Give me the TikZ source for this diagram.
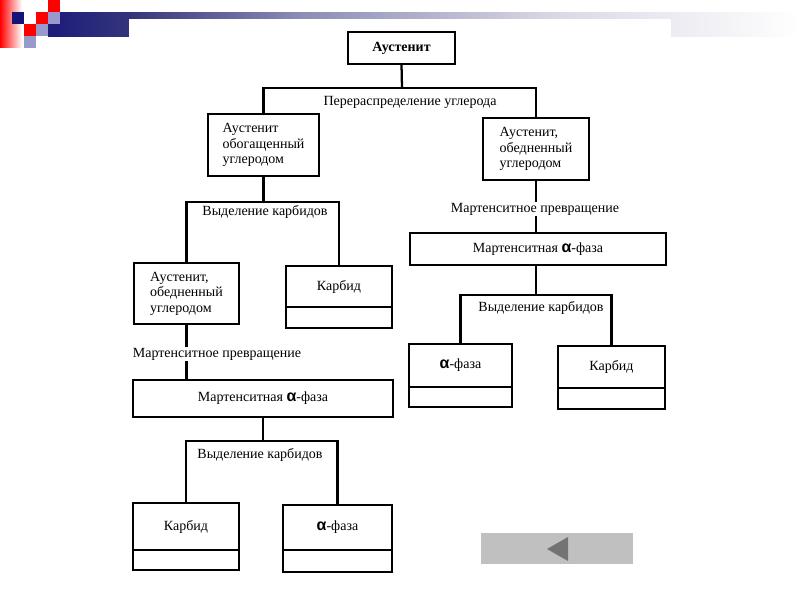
\documentclass[tikz,border=0pt]{standalone}
\usepackage{fontspec}
\setmainfont{Liberation Serif}
\newfontfamily\greekfont{Liberation Sans}
\usetikzlibrary{positioning}

\definecolor{slidered}{RGB}{255,0,0}
\definecolor{slidenavy}{RGB}{20,20,120}
\definecolor{slidelilac}{RGB}{153,153,204}
\definecolor{barA}{RGB}{28,28,122}
\definecolor{barB}{RGB}{52,52,124}
\definecolor{barC}{RGB}{140,140,182}
\definecolor{barD}{RGB}{218,218,230}
\definecolor{btngrey}{RGB}{192,192,192}
\definecolor{btndark}{RGB}{115,115,115}

\newcommand{\alf}{{\greekfont\bfseries\large α}}

\begin{document}
\begin{tikzpicture}[x=0.75pt, y=-0.75pt,
  every node/.style={font=\fontsize{10.5}{11.6}\selectfont},
  boxsize/.style 2 args={minimum width=#1*0.75pt, minimum height=#2*0.75pt},
  box/.style={draw, line width=1.7pt, inner sep=0pt, outer sep=0pt},
  note/.style={fill=white, inner sep=1pt},
  link/.style={line width=1.7pt}]

\useasboundingbox (0,0) rectangle (800,600);
\fill[white] (0,0) rectangle (800,600);

% slide decoration
\shade[left color=slidered, right color=white] (0,0) rectangle (22,47);
\shade[left color=barA, right color=barB] (48,12) rectangle (130,36);
\shade[left color=barB, right color=barC] (130,12) rectangle (300,36);
\shade[left color=barC, right color=barD] (300,12) rectangle (560,36);
\shade[left color=barD, right color=white] (560,12) rectangle (800,36);
\fill[white] (129,19) rectangle (671,600);
\fill[slidered] (48,0) rectangle (60,12);
\fill[slidenavy] (12,12) rectangle (24,24);
\fill[slidered] (36,12) rectangle (48,24);
\fill[slidelilac] (48,12) rectangle (60,24);
\fill[slidered] (24,24) rectangle (36,36);
\fill[slidelilac] (36,24) rectangle (48,36);
\fill[slidelilac] (24,36) rectangle (36,48);

% boxes
\node[box, boxsize={107}{32}] (aus) at (401.5,48) {\textbf{Аустенит}};
\node[box, boxsize={111}{62}, align=left] (enr) at (263.5,145) {Аустенит\\обогащенный\\углеродом};
\node[box, boxsize={106}{62}, align=left] (depR) at (536,149) {Аустенит,\\обедненный\\углеродом};
\node[box, boxsize={105}{61}, align=left] (depL) at (186.5,293.5) {Аустенит,\\обедненный\\углеродом};
\node[box, boxsize={106}{41}] (carbL) at (339,286.5) {Карбид};
\node[box, boxsize={106}{21}, below=0pt of carbL] (carbLb) {};
\node[box, boxsize={260}{37}] (martL) at (263,398.5) {Мартенситная \alf-фаза};
\node[box, boxsize={106}{47}] (carbB) at (186,526.5) {Карбид};
\node[box, boxsize={106}{20}, below=0pt of carbB] (carbBb) {};
\node[box, boxsize={109}{45}] (alphaB) at (337.5,527.5) {\alf-фаза};
\node[box, boxsize={109}{22}, below=0pt of alphaB] (alphaBb) {};
\node[box, boxsize={256}{32}] (martR) at (538,249) {Мартенситная \alf-фаза};
\node[box, boxsize={103}{43}] (alphaR) at (460.5,365.5) {\alf-фаза};
\node[box, boxsize={103}{20}, below=0pt of alphaR] (alphaRb) {};
\node[box, boxsize={107}{42}] (carbR) at (611.5,367) {Карбид};
\node[box, boxsize={107}{21}, below=0pt of carbR] (carbRb) {};

% connectors
\coordinate (b1) at (402,88);
\draw[link] (aus.south) -- (b1);
\draw[link] (enr.north) |- (b1) -| (depR.north);

\coordinate (b2) at (263.5,202);
\draw[link] (enr.south) -- (b2);
\draw[link] (depL.north) |- (b2) -| (carbL.north);
\draw[link] (depL.south) -- (depL.south |- martL.north);

\coordinate (b3) at (263,441);
\draw[link] (martL.south) -- (b3);
\draw[link] (carbB.north) |- (b3) -| (alphaB.north);

\draw[link] (depR.south) -- (depR.south |- martR.north);
\coordinate (b4) at (536,295);
\draw[link] (b4 |- martR.south) -- (b4);
\draw[link] (alphaR.north) |- (b4) -| (carbR.north);

% texts on the lines
\node[note] (redist) at (410,102) {Перераспределение углерода};
\node[note] (sepL) at (265,212) {Выделение карбидов};
\node[note] (trL) at (217,354) {Мартенситное превращение};
\node[note] (sepB) at (260,455) {Выделение карбидов};
\node[note] (trR) at (535,209) {Мартенситное превращение};
\node[note] (sepR) at (541,308) {Выделение карбидов};

% back button
\fill[btngrey] (481,533) rectangle (633,564);
\fill[btndark] (547,549) -- (568,537) -- (568,561) -- cycle;

\end{tikzpicture}
\end{document}
